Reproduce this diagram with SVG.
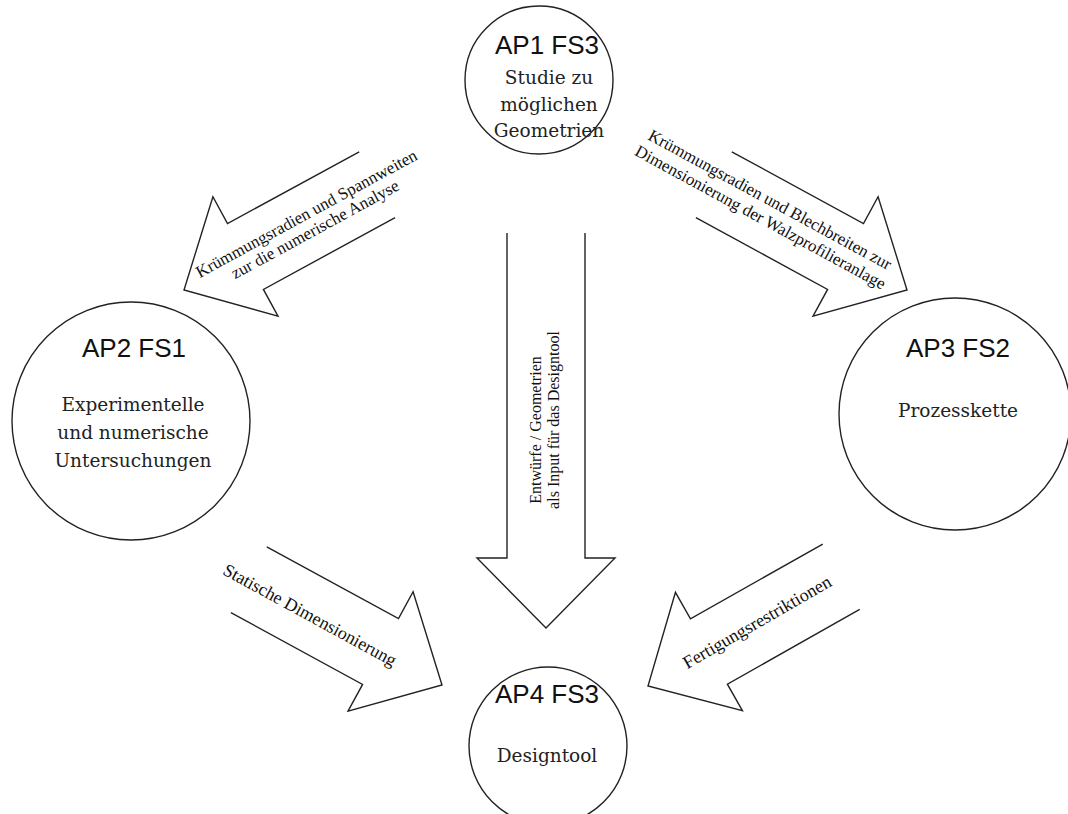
<svg xmlns="http://www.w3.org/2000/svg" width="1068" height="814" viewBox="0 0 1068 814">
<style>
.c{fill:none;stroke:#222;stroke-width:1.4}
.a{fill:none;stroke:#222;stroke-width:1.4;stroke-linejoin:miter}
.h{font-family:"Liberation Sans",Arial,sans-serif;font-size:26px;fill:#111;text-anchor:middle}
.b{font-family:"DejaVu Serif","Liberation Serif",serif;font-size:18.5px;fill:#222;text-anchor:middle}
.l{font-family:"Liberation Serif","Times New Roman",serif;font-size:17px;fill:#111;text-anchor:middle}
</style>
<rect width="1068" height="814" fill="#fff"/>
<g id="connectors">
  <g id="arr-ap1-ap2">
    <polyline class="a" transform="translate(184,290) rotate(151.4)" points="-220,-37.5 -70,-37.5 -70,-68 0,0 -70,68 -70,37.5 -220,37.5"/>
    <text class="l" transform="translate(311,222) rotate(-28.6)"><tspan x="0" y="-4">Krümmungsradien und Spannweiten</tspan><tspan x="0" y="14">zur die numerische Analyse</tspan></text>
  </g>
  <g id="arr-ap1-ap3">
    <polyline class="a" transform="translate(907,290) rotate(28.6)" points="-220,-37.5 -70,-37.5 -70,-68 0,0 -70,68 -70,37.5 -220,37.5"/>
    <text class="l" transform="translate(765,209) rotate(28.6)"><tspan x="0" y="-5">Krümmungsradien und Blechbreiten zur</tspan><tspan x="0" y="15">Dimensionierung der Walzprofilieranlage</tspan></text>
  </g>
  <g id="arr-ap1-ap4">
    <polyline class="a" points="507,233 507,558 477,558 546,628 615,558 585,558 585,233"/>
    <text class="l" style="font-size:16px" transform="translate(544,420) rotate(-90)"><tspan x="-10" y="-3">Entwürfe / Geometrien</tspan><tspan x="0" y="15">als Input für das Designtool</tspan></text>
  </g>
  <g id="arr-ap2-ap4">
    <polyline class="a" transform="translate(442,685) rotate(28.6)" points="-220,-37.5 -70,-37.5 -70,-68 0,0 -70,68 -70,37.5 -220,37.5"/>
    <text class="l" style="font-size:18px" transform="translate(310,615) rotate(28.6)"><tspan x="0" y="6">Statische Dimensionierung</tspan></text>
  </g>
  <g id="arr-ap3-ap4">
    <polyline class="a" transform="translate(648,686) rotate(150.5)" points="-222,-37.5 -70,-37.5 -70,-68 0,0 -70,68 -70,37.5 -222,37.5"/>
    <text class="l" style="font-size:18px" transform="translate(757,622) rotate(-30)"><tspan x="0" y="6">Fertigungsrestriktionen</tspan></text>
  </g>
</g>
<g id="ap1">
  <circle class="c" cx="539" cy="80" r="74"/>
  <text class="h" x="547" y="54">AP1 FS3</text>
  <text class="b" x="549" y="84">Studie zu</text>
  <text class="b" x="549" y="111">möglichen</text>
  <text class="b" x="549" y="137">Geometrien</text>
</g>
<g id="ap2">
  <circle class="c" cx="131" cy="421" r="119"/>
  <text class="h" x="134" y="357">AP2 FS1</text>
  <text class="b" x="133" y="411">Experimentelle</text>
  <text class="b" x="133" y="439">und numerische</text>
  <text class="b" x="133" y="467">Untersuchungen</text>
</g>
<g id="ap3">
  <circle class="c" cx="955" cy="414" r="116"/>
  <text class="h" x="958" y="357">AP3 FS2</text>
  <text class="b" x="958" y="417">Prozesskette</text>
</g>
<g id="ap4">
  <circle class="c" cx="548" cy="746" r="79"/>
  <text class="h" x="547" y="703">AP4 FS3</text>
  <text class="b" x="547" y="762">Designtool</text>
</g>
</svg>
